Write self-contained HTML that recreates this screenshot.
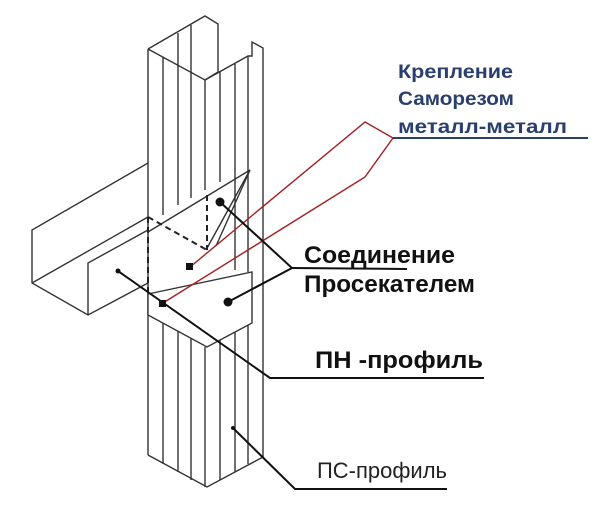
<!DOCTYPE html>
<html><head><meta charset="utf-8"><style>
html,body{margin:0;padding:0;background:#fff;}
svg{display:block;}
</style></head><body>
<svg width="600" height="509" viewBox="0 0 600 509" xmlns="http://www.w3.org/2000/svg">
<g fill="none" stroke="#333" stroke-width="1.4">
<polyline points="148,49 205,16 218,24 218,72 205,80 148,49"/>
<polyline points="205,80 248,56 252,56 252,42 263,48 263,457"/>
<line x1="148" y1="49" x2="148" y2="455"/>
<line x1="163" y1="57" x2="163" y2="215"/>
<line x1="178" y1="33" x2="178" y2="205"/>
<line x1="191" y1="25" x2="191" y2="198"/>
<line x1="205" y1="80" x2="205" y2="190"/>
<line x1="220" y1="72" x2="220" y2="182"/>
<line x1="235" y1="64" x2="235" y2="270"/>
<line x1="248" y1="56" x2="248" y2="272"/>
<line x1="163" y1="323" x2="163" y2="464"/>
<line x1="178" y1="330" x2="178" y2="472"/>
<line x1="191" y1="337" x2="191" y2="480"/>
<line x1="205" y1="347" x2="205" y2="487"/>
<line x1="220" y1="340" x2="220" y2="480"/>
<line x1="235" y1="332" x2="235" y2="472"/>
<line x1="248" y1="323" x2="248" y2="464"/>
<polyline points="148,455 207,487 263,457"/>
<polyline points="148,163 32,230 32,283 88,315 148,283"/>
<line x1="32" y1="283" x2="148" y2="217"/>
<polyline points="88,315 88,263 148,230"/>
<line x1="148" y1="232" x2="250" y2="170"/>
<line x1="250" y1="170" x2="206" y2="250"/>
<line x1="250" y1="170" x2="216" y2="246"/>
<polygon points="148,294 252,272 252,323 207,347 148,315" fill="#fff"/>
</g>
<g fill="none" stroke="#222" stroke-width="2" stroke-dasharray="6,4">
<line x1="148" y1="217" x2="148" y2="294"/>
<line x1="148" y1="217" x2="207" y2="250"/>
<line x1="207" y1="195" x2="207" y2="250"/>
</g>
<polyline points="190,267 365,122 393,138 365,177 163,303" fill="none" stroke="#a32020" stroke-width="1.4"/>
<line x1="393" y1="138" x2="588" y2="138" stroke="#2a3f6e" stroke-width="2"/>
<g stroke="#111" stroke-width="2" fill="none">
<polyline points="220,202 292,268 228,302"/>
<line x1="292" y1="268" x2="407" y2="269"/>
<polyline points="118,271 270,378 484,378"/>
<polyline points="233,428 295,489 447,489"/>
</g>
<g fill="#111">
<circle cx="220" cy="202" r="4.5"/>
<circle cx="228" cy="302" r="4.5"/>
<circle cx="118" cy="271" r="2.5"/>
<circle cx="233" cy="428" r="2"/>
<rect x="186" y="263" width="7" height="7"/>
<rect x="159" y="300" width="7" height="7"/>
</g>
<g font-family="Liberation Sans, sans-serif" font-weight="bold" lengthAdjust="spacingAndGlyphs">
<text x="398" y="78" font-size="19" fill="#2a3f6e" textLength="115" lengthAdjust="spacingAndGlyphs">Крепление</text>
<text x="398" y="105" font-size="19" fill="#2a3f6e" textLength="116" lengthAdjust="spacingAndGlyphs">Саморезом</text>
<text x="398" y="133" font-size="19" fill="#2a3f6e" textLength="169" lengthAdjust="spacingAndGlyphs">металл-металл</text>
<text x="304" y="263" font-size="24" fill="#111" textLength="151" lengthAdjust="spacingAndGlyphs">Соединение</text>
<text x="304" y="292" font-size="24" fill="#111" textLength="171" lengthAdjust="spacingAndGlyphs">Просекателем</text>
<text x="315" y="368" font-size="24" fill="#111" textLength="168" lengthAdjust="spacingAndGlyphs">ПН -профиль</text>
</g>
<text x="317" y="478" font-family="Liberation Sans, sans-serif" font-size="22" fill="#222" textLength="130" lengthAdjust="spacingAndGlyphs">ПС-профиль</text>
</svg>
</body></html>
